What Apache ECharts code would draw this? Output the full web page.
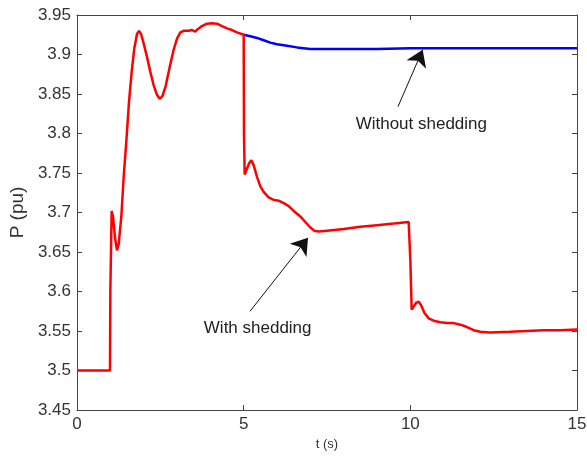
<!DOCTYPE html>
<html>
<head>
<meta charset="utf-8">
<script src="https://cdn.jsdelivr.net/npm/echarts@6/dist/echarts.min.js"></script>
<style>
  html, body { margin: 0; padding: 0; background: #fff; }
  #chart { width: 587px; height: 456px; }
</style>
</head>
<body>
<div id="chart"></div>
<script>
// Power response P (pu) over time t (s)
const withSheddingT = [0, 0.99, 1.00, 1.04, 1.08, 1.14, 1.20, 1.25, 1.33, 1.40, 1.48, 1.56, 1.64, 1.72, 1.80, 1.86, 1.92, 2.00, 2.10, 2.20, 2.30, 2.40, 2.48, 2.56, 2.66, 2.78, 2.90, 3.00, 3.10, 3.20, 3.35, 3.45, 3.55, 3.62, 3.75, 3.90, 4.05, 4.20, 4.35, 4.50, 4.65, 4.80, 5.00, 5.01, 5.03, 5.08, 5.16, 5.23, 5.30, 5.40, 5.50, 5.60, 5.75, 5.90, 6.05, 6.20, 6.35, 6.50, 6.70, 6.85, 7.00, 7.12, 7.25, 7.50, 8.00, 8.50, 9.00, 9.50, 9.95, 10.00, 10.04, 10.10, 10.18, 10.25, 10.32, 10.42, 10.55, 10.70, 10.90, 11.10, 11.30, 11.50, 11.70, 11.90, 12.10, 12.40, 13.00, 13.50, 14.00, 14.50, 15.00];
const withSheddingP = [3.5, 3.5, 3.60, 3.702, 3.695, 3.668, 3.652, 3.660, 3.695, 3.745, 3.790, 3.840, 3.878, 3.908, 3.926, 3.930, 3.926, 3.914, 3.897, 3.878, 3.861, 3.849, 3.844, 3.847, 3.860, 3.884, 3.906, 3.920, 3.928, 3.930, 3.930, 3.931, 3.929, 3.932, 3.936, 3.939, 3.9395, 3.939, 3.936, 3.933, 3.931, 3.928, 3.925, 3.80, 3.748, 3.750, 3.762, 3.766, 3.760, 3.745, 3.733, 3.726, 3.719, 3.716, 3.715, 3.712, 3.708, 3.702, 3.695, 3.688, 3.681, 3.677, 3.676, 3.677, 3.679, 3.682, 3.684, 3.686, 3.688, 3.64, 3.577, 3.578, 3.586, 3.587, 3.583, 3.573, 3.566, 3.563, 3.561, 3.560, 3.560, 3.558, 3.555, 3.551, 3.549, 3.548, 3.549, 3.550, 3.551, 3.551, 3.552];

const withoutSheddingT = [5.00, 5.20, 5.40, 5.60, 5.80, 6.00, 6.30, 6.60, 7.00, 7.50, 8.00, 9.00, 10.00, 11.00, 12.00, 13.00, 14.00, 15.00];
const withoutSheddingP = [3.925, 3.923, 3.921, 3.918, 3.915, 3.913, 3.911, 3.909, 3.907, 3.907, 3.907, 3.907, 3.908, 3.908, 3.908, 3.908, 3.908, 3.908];

// Axis ranges
const xTicks = [0, 5, 10, 15];
const yTickLabels = ['3.45', '3.5', '3.55', '3.6', '3.65', '3.7', '3.75', '3.8', '3.85', '3.9', '3.95'];

// Annotations (data coordinates)
const noteWithout = { text: 'Without shedding', at: [10.33, 3.811], tail: [9.63, 3.834], head: [10.37, 3.906] };
const noteWith = { text: 'With shedding', at: [5.42, 3.554], tail: [5.19, 3.575], head: [6.93, 3.668] };

const zip = (xs, ys) => xs.map((x, i) => [x, ys[i]]);

const FONT = 'Liberation Sans, Arial, sans-serif';
const AXIS_COLOR = '#444';

function xAxisCfg(top) {
  return {
    type: 'value', min: xTicks[0], max: xTicks[xTicks.length - 1], interval: 5,
    position: top ? 'top' : 'bottom',
    name: top ? '' : 't (s)', nameLocation: 'middle', nameGap: 27,
    nameTextStyle: { fontFamily: FONT, fontSize: 13, color: '#333' },
    axisLine: { show: true, onZero: false, lineStyle: { color: AXIS_COLOR, width: 1 } },
    axisTick: { show: true, inside: true, length: 5, lineStyle: { color: AXIS_COLOR } },
    axisLabel: { show: !top, margin: 6, fontFamily: FONT, fontSize: 17, color: '#333' },
    splitLine: { show: false }
  };
}
function yAxisCfg(right) {
  return {
    type: 'value', min: 3.45, max: 3.95, interval: 0.05,
    position: right ? 'right' : 'left',
    name: right ? '' : 'P (pu)', nameLocation: 'middle', nameGap: 50,
    nameTextStyle: { fontFamily: FONT, fontSize: 19, color: '#333' },
    axisLine: { show: true, onZero: false, lineStyle: { color: AXIS_COLOR, width: 1 } },
    axisTick: { show: true, inside: true, length: 5, lineStyle: { color: AXIS_COLOR } },
    axisLabel: {
      show: !right, margin: 6, fontFamily: FONT, fontSize: 17, color: '#333',
      formatter: v => yTickLabels[Math.round((v - 3.45) / 0.05)]
    },
    splitLine: { show: false }
  };
}

function arrow(note) {
  return [{ coord: note.tail }, { coord: note.head }];
}
function textMark(note) {
  return {
    coord: note.at, symbol: 'circle', symbolSize: 1,
    itemStyle: { color: 'rgba(0,0,0,0)' },
    label: { show: true, position: 'inside', formatter: note.text, fontFamily: FONT, fontSize: 17, color: '#222' }
  };
}

const chart = echarts.init(document.getElementById('chart'), null, { renderer: 'canvas' });
chart.setOption({
  animation: false,
  backgroundColor: '#fff',
  grid: { left: 77, top: 15, width: 500, height: 395, containLabel: false, outerBoundsMode: 'none' },
  xAxis: [xAxisCfg(false), xAxisCfg(true)],
  yAxis: [yAxisCfg(false), yAxisCfg(true)],
  series: [
    {
      name: 'Without shedding', type: 'line', xAxisIndex: 0, yAxisIndex: 0,
      data: zip(withoutSheddingT, withoutSheddingP), showSymbol: false,
      lineStyle: { color: '#0000ff', width: 2.5 }, z: 2
    },
    {
      name: 'With shedding', type: 'line', xAxisIndex: 0, yAxisIndex: 0,
      data: zip(withSheddingT, withSheddingP), showSymbol: false,
      lineStyle: { color: '#ff0000', width: 2.5 }, z: 3,
      markLine: {
        silent: true, animation: false,
        symbol: ['none', 'arrow'], symbolSize: 16,
        lineStyle: { color: '#111', width: 1, type: 'solid' },
        label: { show: false },
        data: [arrow(noteWithout), arrow(noteWith)]
      },
      markPoint: {
        silent: true, animation: false,
        data: [textMark(noteWithout), textMark(noteWith)]
      }
    }
  ]
});
</script>
</body>
</html>
